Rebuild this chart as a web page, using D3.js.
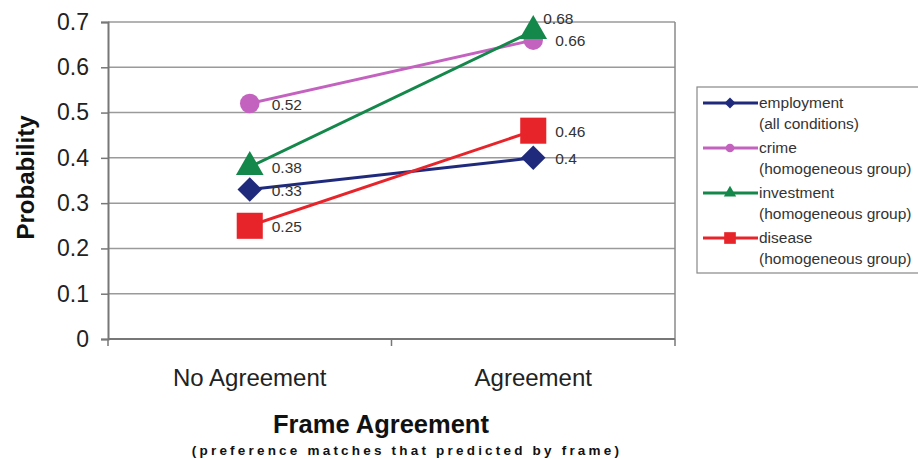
<!DOCTYPE html>
<html>
<head>
<meta charset="utf-8">
<script src="https://d3js.org/d3.v7.min.js"></script>
<style>
  body { margin:0; background:#fff; }
  text { font-family: "Liberation Sans", Arial, sans-serif; }
</style>
</head>
<body>
<div id="chart"></div>
<script>
// data
var categories = ["No Agreement", "Agreement"];
var seriesNames = ["employment", "crime", "investment", "disease"];
var seriesNotes = ["(all conditions)", "(homogeneous group)", "(homogeneous group)", "(homogeneous group)"];
var employment = [0.33, 0.40];
var crime = [0.52, 0.66];
var investment = [0.38, 0.68];
var disease = [0.25, 0.46];
var yTicks = [0, 0.1, 0.2, 0.3, 0.4, 0.5, 0.6, 0.7];

var values = [employment, crime, investment, disease];
var colors = ["#1f2a7c", "#c462bf", "#14884a", "#e8242b"];
var symbols = [d3.symbolSquare, d3.symbolCircle, d3.symbolTriangle, d3.symbolSquare];
var symSizes = [300, 300, 330, 680];
var symRotate = [45, 0, 0, 0];

const W = 918, H = 459;
const plotL = 108, plotR = 675, plotT = 22, plotB = 339;

const svg = d3.select("#chart").append("svg")
    .attr("width", W).attr("height", H);

var x = d3.scaleBand().domain(categories).range([plotL, plotR]).padding(0);
var y = d3.scaleLinear().domain([0, 0.7]).range([plotB, plotT]);
var cx = function(c) { return x(c) + x.bandwidth() / 2; };

// grid
svg.append("g").selectAll("line")
    .data(yTicks.slice(1))
    .enter().append("line")
    .attr("x1", plotL).attr("x2", plotR)
    .attr("y1", d => y(d)).attr("y2", d => y(d))
    .attr("stroke", "#9a9a9a").attr("stroke-width", 1.5);

// right border
svg.append("line").attr("x1", plotR).attr("x2", plotR).attr("y1", plotT).attr("y2", plotB)
    .attr("stroke", "#8a8a8a").attr("stroke-width", 1.5);

// y axis
var yAxis = d3.axisLeft(y).tickValues(yTicks).tickSize(7).tickPadding(12)
    .tickFormat(d => d3.format("")(+d.toFixed(1)));
var gy = svg.append("g").attr("transform", "translate(" + plotL + ",0)").call(yAxis);
gy.select(".domain").attr("stroke", "#777").attr("stroke-width", 2);
gy.selectAll(".tick line").attr("stroke", "#777").attr("stroke-width", 1.5);
gy.selectAll(".tick text").attr("font-size", 23).attr("fill", "#222")
    .attr("font-family", "'Liberation Sans', Arial, sans-serif");

// x axis: ticks at band edges
var gx = svg.append("g").attr("transform", "translate(0," + plotB + ")");
gx.append("line").attr("x1", plotL).attr("x2", plotR).attr("stroke", "#777").attr("stroke-width", 2);
gx.selectAll(".xt").data(categories.concat(["end"]))
    .enter().append("line")
    .attr("x1", (d, i) => plotL + i * x.bandwidth())
    .attr("x2", (d, i) => plotL + i * x.bandwidth())
    .attr("y1", 0).attr("y2", 7)
    .attr("stroke", "#777").attr("stroke-width", 1.5);
gx.selectAll(".xl").data(categories)
    .enter().append("text")
    .attr("x", d => cx(d)).attr("y", 47)
    .attr("text-anchor", "middle").attr("font-size", 24).attr("fill", "#222")
    .text(d => d);

// axis titles
svg.append("text")
    .attr("transform", "translate(34," + ((plotT + plotB) / 2 - 3) + ") rotate(-90)")
    .attr("text-anchor", "middle").attr("font-size", 24).attr("font-weight", "bold")
    .attr("fill", "#111").text("Probability");
svg.append("text")
    .attr("x", 381).attr("y", 433).attr("text-anchor", "middle")
    .attr("font-size", 25.5).attr("font-weight", "bold").attr("fill", "#111")
    .text("Frame Agreement");
svg.append("text")
    .attr("x", 407).attr("y", 455).attr("text-anchor", "middle")
    .attr("font-size", 13.5).attr("font-weight", "bold").attr("letter-spacing", 3.2)
    .attr("fill", "#111")
    .text("(preference matches that predicted by frame)");

// series
var line = d3.line().x((d, i) => cx(categories[i])).y(d => y(d));
seriesNames.forEach(function(name, s) {
  var g = svg.append("g");
  g.append("path").datum(values[s])
      .attr("d", line).attr("fill", "none")
      .attr("stroke", colors[s]).attr("stroke-width", 3);
  g.selectAll("path.m").data(values[s])
      .enter().append("path").attr("class", "m")
      .attr("transform", (d, i) => "translate(" + cx(categories[i]) + "," + y(d) + ") rotate(" + symRotate[s] + ")")
      .attr("d", d3.symbol().type(symbols[s]).size(symSizes[s]))
      .attr("fill", colors[s]);
});

// data labels
seriesNames.forEach(function(name, s) {
  svg.selectAll(null).data(values[s])
      .enter().append("text")
      .attr("x", (d, i) => cx(categories[i]) + (name === "investment" && i === 1 ? 10 : 22))
      .attr("y", (d, i) => y(d) + (name === "investment" && i === 1 ? -7 : 6))
      .attr("font-size", 15.5).attr("fill", "#333")
      .text(d => d3.format("")(d));
});

// legend
var lg = svg.append("g").attr("transform", "translate(697,87)");
lg.append("rect").attr("width", 240).attr("height", 186)
    .attr("fill", "#fff").attr("stroke", "#888").attr("stroke-width", 1.2);
seriesNames.forEach(function(name, s) {
  var row = lg.append("g").attr("transform", "translate(0," + (16 + s * 45) + ")");
  row.append("line").attr("x1", 6).attr("x2", 61).attr("stroke", colors[s]).attr("stroke-width", 3);
  row.append("path").attr("transform", "translate(33,0) rotate(" + symRotate[s] + ")")
      .attr("d", d3.symbol().type(symbols[s]).size(symSizes[s] / 5))
      .attr("fill", colors[s]);
  row.append("text").attr("x", 62).attr("y", 5).attr("font-size", 15.5).attr("fill", "#333").text(name);
  row.append("text").attr("x", 62).attr("y", 26).attr("font-size", 15.5).attr("fill", "#333").text(seriesNotes[s]);
});
</script>
</body>
</html>
